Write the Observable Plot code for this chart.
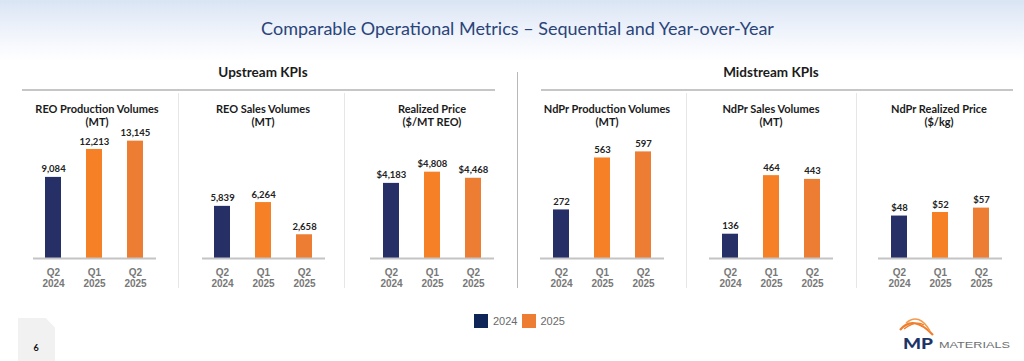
<!DOCTYPE html>
<html>
<head>
<meta charset="utf-8">
<script src="https://cdn.jsdelivr.net/npm/d3@7"></script>
<script src="https://cdn.jsdelivr.net/npm/@observablehq/plot@0.6"></script>
<style>
  html, body { margin: 0; padding: 0; }
  body { width: 1024px; height: 361px; overflow: hidden; font-family: Lato, "Open Sans", sans-serif; }
  #page { position: relative; width: 1024px; height: 361px; overflow: hidden;
    background: linear-gradient(to bottom, #d9e4f4 0px, #e9eff9 22px, #f7f9fd 45px, #ffffff 62px); }
  .abs { position: absolute; }
  .title { left: 0; width: 1035px; top: 16px; text-align: center; font-size: 18px; color: #2a4479; line-height: 24px; }
  .section { font-weight: 700; font-size: 13.5px; color: #1b1b1b; line-height: 16px; text-align: center; width: 200px; top: 64px; }
  .hline { height: 2px; background: #c6c6c6; top: 89px; }
  .vline { width: 1px; background: #e6e6e6; top: 93px; height: 195px; }
  .ptitle { font-weight: 700; font-size: 11px; color: #1b1b1b; line-height: 13px; text-align: center; width: 170px; top: 101.5px; }
  .panel { top: 128px; }
  .legsq { width: 14px; height: 14px; top: 314px; }
  .legtx { font-family: "Liberation Sans", Arial, sans-serif; font-size: 11px; color: #6a6a6a; top: 313.5px; line-height: 14px; }
</style>
</head>
<body>
<div id="page"></div>
<script>
// ---- data ----
const periods = ["Q2 2024", "Q1 2025", "Q2 2025"];
const reoProduction = [9084, 12213, 13145];
const reoSales = [5839, 6264, 2658];
const reoPrice = [4183, 4808, 4468];
const ndprProduction = [272, 563, 597];
const ndprSales = [136, 464, 443];
const ndprPrice = [48, 52, 57];
const panelTitles = [
  ["REO Production Volumes", "(MT)"],
  ["REO Sales Volumes", "(MT)"],
  ["Realized Price", "($/MT REO)"],
  ["NdPr Production Volumes", "(MT)"],
  ["NdPr Sales Volumes", "(MT)"],
  ["NdPr Realized Price", "($/kg)"]
];
const valuePrefixes = ["", "", "$", "", "", "$"];
const sectionTitles = ["Upstream KPIs", "Midstream KPIs"];
const legendLabels = ["2024", "2025"];
const chartTitle = "Comparable Operational Metrics \u2013 Sequential and Year-over-Year";

// ---- styling / layout ----
const barColors = ["#262f66", "#f58025", "#ec7d33"];
const legendColors = ["#0f2557", "#ec7d33"];
const panelLayout = [
  {x0: 33, x1: 156, ymax: 14560, cx: 97},
  {x0: 202, x1: 325, ymax: 14560, cx: 263},
  {x0: 370, x1: 494, ymax: 7240, cx: 432},
  {x0: 540, x1: 664, ymax: 728, cx: 607},
  {x0: 709, x1: 833, ymax: 728, cx: 771},
  {x0: 878, x1: 1002, ymax: 147, cx: 939}
];
const seriesValues = [reoProduction, reoSales, reoPrice, ndprProduction, ndprSales, ndprPrice];

const page = document.getElementById("page");
function add(cls, css, html) {
  const d = document.createElement("div");
  d.className = "abs " + cls;
  Object.assign(d.style, css);
  if (html != null) d.innerHTML = html;
  page.appendChild(d);
  return d;
}

add("title", {}, chartTitle);
add("section", {left: (263 - 100) + "px"}, sectionTitles[0]);
add("section", {left: (771 - 100) + "px"}, sectionTitles[1]);
add("hline", {left: "22px", width: "473px"});
add("hline", {left: "541px", width: "472px"});
add("", {left: "516.5px", top: "72px", width: "1.5px", height: "216px", background: "#b8b8b8"});
[178, 344, 686, 856].forEach(x => add("vline", {left: x + "px"}));

const fmt = d3.format(",");
panelLayout.forEach((p, i) => {
  add("ptitle", {left: (p.cx - 85) + "px"}, panelTitles[i].join("<br>"));
  const data = periods.map((period, j) => ({period, value: seriesValues[i][j]}));
  const pad = 15;
  const plot = Plot.plot({
    width: p.x1 - p.x0 + 2 * pad,
    height: 175,
    marginLeft: pad, marginRight: pad, marginTop: 0, marginBottom: 45,
    style: {fontFamily: "Lato, sans-serif", background: "transparent", overflow: "visible"},
    x: {domain: periods, paddingInner: 0.6, paddingOuter: 0.3, axis: null, label: null},
    y: {domain: [0, p.ymax], axis: null},
    color: {domain: periods, range: barColors},
    marks: [
      Plot.barY(data, {x: "period", y: "value", fill: "period"}),
      Plot.ruleY([0], {stroke: "#c4c4c4", strokeWidth: 2}),
      Plot.text(data, {x: "period", y: "value", text: d => valuePrefixes[i] + fmt(d.value),
        dy: -8, fontSize: 9.5, fontWeight: 700, fill: "#222"}),
      Plot.axisX({tickSize: 0, tickPadding: 9, label: null, tickFormat: d => d.replace(" ", "\n"),
        fontSize: 10, lineHeight: 1.16, color: "#787878", fontWeight: 700,
        fontFamily: "Liberation Sans, Arial, sans-serif"})
    ]
  });
  const wrap = add("panel", {left: (p.x0 - pad) + "px", width: (p.x1 - p.x0 + 2 * pad) + "px"});
  wrap.appendChild(plot);
});

// legend
add("legsq", {left: "473.5px", background: legendColors[0]});
add("legtx", {left: "493px"}, legendLabels[0]);
add("legsq", {left: "522px", background: legendColors[1]});
add("legtx", {left: "540.5px"}, legendLabels[1]);

// page number
add("", {left: "18px", top: "318px", width: "37px", height: "43px", background: "#f1f1f1",
  clipPath: "polygon(0 0, 75% 0, 100% 22%, 100% 100%, 0 100%)"});
add("", {left: "30px", top: "341px", width: "12px", textAlign: "center", fontSize: "9px", fontWeight: "700", color: "#111", lineHeight: "14px"}, "6");

// logo
add("", {left: "895px", top: "312px", width: "125px", height: "45px"},
  `<svg width="125" height="45" viewBox="0 0 125 45">
    <path d="M5 18 Q 18 2 38 23" fill="none" stroke="#ef7f2e" stroke-width="2.2"/>
    <path d="M11 11 Q 24 0 35 19" fill="none" stroke="#f39a4d" stroke-width="1.5"/>
    <path d="M9 17 Q 21 8 29 13" fill="none" stroke="#ef7f2e" stroke-width="1.3"/>
    <text x="8" y="36.5" font-family="Lato, sans-serif" font-weight="900" font-size="14.5" fill="#1d3566" textLength="30" lengthAdjust="spacingAndGlyphs">MP</text>
    <text x="44" y="36" font-family="Liberation Sans, Arial, sans-serif" font-weight="400" font-size="9" fill="#6d6f71" textLength="71" lengthAdjust="spacingAndGlyphs">MATERIALS</text>
  </svg>`);
</script>
</body>
</html>
